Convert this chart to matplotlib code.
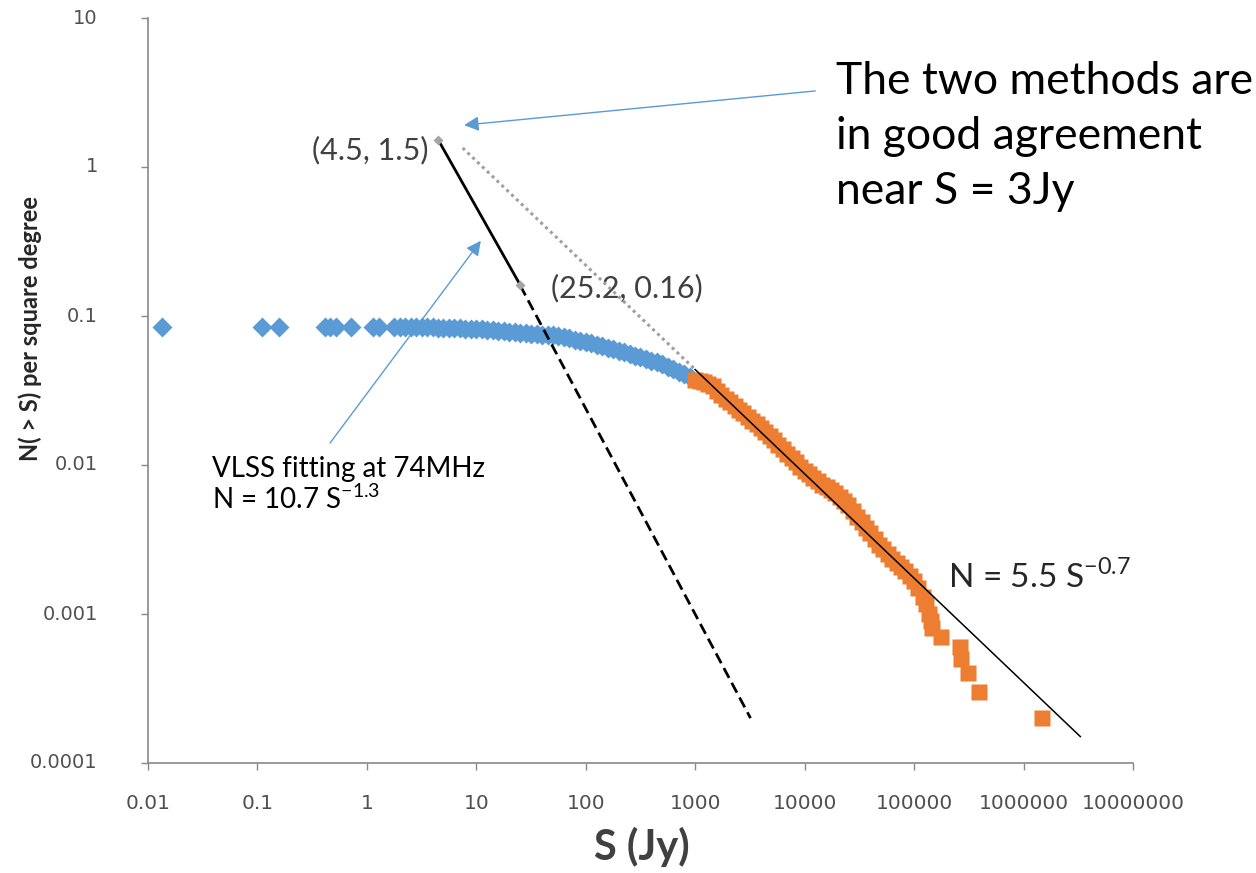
import matplotlib
matplotlib.use("Agg")
import matplotlib.pyplot as plt
from matplotlib.ticker import NullLocator
import numpy as np

plt.rcParams['mathtext.fontset'] = 'custom'
plt.rcParams['mathtext.rm'] = 'Lato'

# Source counts from the catalogue below 1000 Jy (blue) and above (orange)
blue_S = [0.0133, 0.110, 0.157, 0.416, 0.46, 0.52, 0.713, 1.14, 1.29,
          1.78, 2.00, 2.24, 2.51, 2.82, 3.16, 3.55, 3.98, 4.47, 5.01,
          5.62, 6.31, 7.08, 7.94, 8.91, 10.0, 11.2, 12.6, 14.1, 15.8,
          17.8, 20.0, 22.4, 25.1, 28.2, 31.6, 35.5, 39.8, 44.7, 50.1,
          56.2, 63.1, 70.8, 79.4, 89.1, 100, 112, 126, 141, 158,
          178, 200, 224, 251, 282, 316, 355, 398, 447, 501,
          562, 631, 708, 794, 891]
blue_N = [0.0845, 0.0845, 0.0845, 0.0845, 0.0845, 0.0845, 0.0845, 0.0845, 0.0845,
          0.0843, 0.0843, 0.0843, 0.0842, 0.0842, 0.0841, 0.0841, 0.0839, 0.0837, 0.0836,
          0.0834, 0.0832, 0.0828, 0.0824, 0.0820, 0.0817, 0.0813, 0.0807, 0.0802, 0.0796,
          0.0791, 0.0785, 0.0778, 0.0773, 0.0767, 0.0760, 0.0755, 0.0750, 0.0745, 0.0740,
          0.0733, 0.0719, 0.0708, 0.0695, 0.0682, 0.0668, 0.0656, 0.0641, 0.0627, 0.0612,
          0.0598, 0.0583, 0.0570, 0.0556, 0.0542, 0.0528, 0.0515, 0.0502, 0.0491, 0.0474,
          0.0457, 0.0440, 0.0423, 0.0406, 0.0391]

orange_S = [1000, 1096, 1202, 1318, 1445, 1585, 1738, 1905, 2089, 2291,
            2512, 2754, 3020, 3311, 3631, 3981, 4365, 4786, 5248, 5754,
            6310, 6918, 7586, 8318, 9120, 10000, 10960, 12020, 13180, 14450,
            15850, 17380, 19050, 20890, 22910, 25120, 27540, 30200, 33110, 36310,
            39810, 43650, 47860, 52480, 57540, 63100, 69180, 75860, 83180, 91200,
            100000, 109600, 120200, 128800, 138000, 142000, 145000, 175000,
            265000, 270000, 310000, 395000, 1480000]
orange_N = [0.0372, 0.0365, 0.0358, 0.0348, 0.0337, 0.0316, 0.0296, 0.0278, 0.0264, 0.0250,
            0.0234, 0.0222, 0.0211, 0.0198, 0.0187, 0.0178, 0.0167, 0.0156, 0.0147, 0.0137,
            0.0129, 0.0119, 0.0111, 0.0104, 0.00973, 0.00912, 0.00865, 0.00820, 0.00778, 0.00738,
            0.00708, 0.00679, 0.00652, 0.00611, 0.00573, 0.00537, 0.00492, 0.00451, 0.00413, 0.00378,
            0.00347, 0.00318, 0.00291, 0.00273, 0.00253, 0.00234, 0.00220, 0.00206, 0.00193, 0.00179,
            0.00166, 0.00149, 0.00130, 0.00116, 0.00100, 0.00090, 0.00080, 0.00070,
            0.00060, 0.00050, 0.00040, 0.00030, 0.00020]

# Power-law fits N = A * S^k
vlss_amp, vlss_index = 10.7, -1.3
vlss_S = [4.5, 25.2]
vlss_dash_S = [25.2, 3200]
vlss_dash_N = [0.16, 0.0002]
fit_amp, fit_index = 5.5, -0.7
fit_S = [1000, 3.3e6]
fit_dot_S = [7.5, 1000]

x_ticks = [0.01, 0.1, 1, 10, 100, 1000, 1e4, 1e5, 1e6, 1e7]
x_labels = ['0.01', '0.1', '1', '10', '100', '1000', '10000', '100000',
            '1000000', '10000000']
y_ticks = [1e-4, 1e-3, 1e-2, 0.1, 1, 10]
y_labels = ['0.0001', '0.001', '0.01', '0.1', '1', '10']


def power_law(s, amp, index):
    return amp * np.asarray(s, dtype=float) ** index


fig = plt.figure(figsize=(12.56, 8.73), dpi=100)
ax = fig.add_axes([148 / 1256, 1 - 763 / 873, 985 / 1256, 745 / 873])

ax.plot(blue_S, blue_N, 'D', ms=10.5, color='#5B9BD5', mec='none', zorder=2)
ax.plot(orange_S, orange_N, 's', ms=12, color='#ED7D31', mec='none', zorder=3)

ax.plot(fit_dot_S, power_law(fit_dot_S, fit_amp, fit_index), color='#A0A0A0',
        lw=2.2, ls=(0, (1, 1.2)), zorder=4)
ax.plot(fit_S, power_law(fit_S, fit_amp, fit_index), color='black', lw=1.1, zorder=5)

vlss_N = power_law(vlss_S, vlss_amp, vlss_index)
ax.plot(vlss_S, vlss_N, color='black', lw=2.0, zorder=5)
ax.plot(vlss_dash_S, vlss_dash_N, color='black', lw=2.0, ls=(0, (4, 2)), zorder=5)
ax.plot(vlss_S, vlss_N, 'D', ms=5, color='#A5A5A5', mec='none', zorder=6)

ax.set_xscale('log')
ax.set_yscale('log')
ax.set_xlim(0.01, 1e7)
ax.set_ylim(1e-4, 10)
ax.set_xticks(x_ticks, x_labels, family=['Liberation Sans Narrow', 'DejaVu Sans'],
              fontsize=14.5)
ax.set_yticks(y_ticks, [''] * len(y_ticks))
ax.xaxis.set_minor_locator(NullLocator())
ax.yaxis.set_minor_locator(NullLocator())

# y tick labels sit well clear of the axis line
for val, lab in zip(y_ticks, y_labels):
    ax.text(-0.051, val, lab, transform=ax.get_yaxis_transform(),
            ha='right', va='center', fontsize=14, family='DejaVu Sans',
            color='#505050')

for side in ('top', 'right'):
    ax.spines[side].set_visible(False)
for side in ('left', 'bottom'):
    ax.spines[side].set_color('#898989')
    ax.spines[side].set_linewidth(1.2)
ax.tick_params(axis='both', direction='out', length=5, width=1.0,
               color='#898989', labelcolor='#505050')
ax.xaxis.set_tick_params(pad=17)

ax.set_xlabel('S (Jy)', fontsize=30, fontweight='bold', family='Lato', color='#404040')
ax.xaxis.set_label_coords(0.5015, -0.086)
ax.set_ylabel('N( > S) per square degree', fontsize=17, fontweight='bold',
              family='Lato', color='#262626')
ax.yaxis.set_label_coords(-0.1076, 0.583)

# Point labels
ax.annotate('(4.5, 1.5)', xy=(vlss_S[0], vlss_N[0]), xytext=(-10, -10),
            textcoords='offset pixels', ha='right', va='center',
            fontsize=22, family='Lato', color='#404040')
ax.annotate('(25.2, 0.16)', xy=(vlss_S[1], vlss_N[1]), xytext=(31, -3),
            textcoords='offset pixels', ha='left', va='center',
            fontsize=22, family='Lato', color='#404040')

ax.text(0.065, 0.412, 'VLSS fitting at 74MHz\nN = 10.7 S$^{\\mathregular{-1.3}}$',
        transform=ax.transAxes, ha='left', va='top', fontsize=20,
        family='Lato', color='black', linespacing=1.1)
ax.text(0.812, 0.250, 'N = 5.5 S$^{\\mathregular{-0.7}}$', transform=ax.transAxes,
        ha='left', va='center', fontsize=24, family='Lato', color='#262626')
ax.text(0.698, 0.942, 'The two methods are\nin good agreement\nnear S = 3Jy',
        transform=ax.transAxes, ha='left', va='top', fontsize=32,
        family='Lato', color='black', linespacing=1.42)

# Callout arrows
arrow = dict(arrowstyle='-|>', color='#5B9BD5', lw=1.0, mutation_scale=22,
             shrinkA=0, shrinkB=0)
ax.annotate('', xy=(7.73, 1.91), xytext=(12500, 3.24), arrowprops=arrow)
ax.annotate('', xy=(11.0, 0.320), xytext=(0.461, 0.01406), arrowprops=arrow)

fig.savefig('out.png', dpi=100)
